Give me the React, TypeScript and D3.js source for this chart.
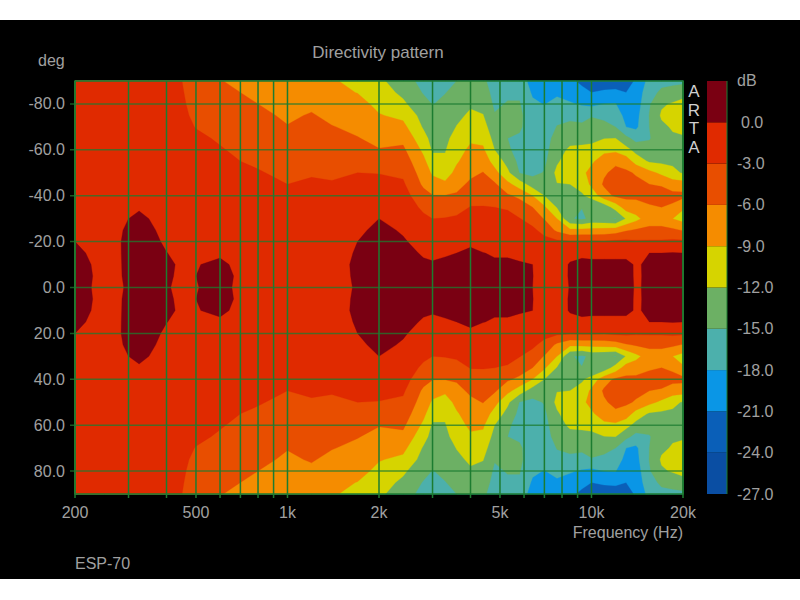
import React from 'react';
import * as d3 from 'd3';

const W = 800;
const H = 600;

// Frequency columns of the measurement grid (Hz)
const freqs = [
  200, 250, 300, 325, 350, 400, 450, 500, 600, 700, 800, 1000, 1200, 1400, 1700, 2000, 2400, 2800, 3000, 3300, 3600,
  4000, 4400, 4800, 5300, 5800, 6400, 7000, 7700, 8500, 9300, 10000, 11000, 12000, 13000, 14000, 15500, 17000,
  18500, 20000,
];

// Off-axis angles of one side (deg), the other side is the mirror of it
const sideAngles = [0, 5, 10, 15, 20, 25, 30, 35, 40, 45, 50, 55, 60, 65, 70, 75, 80, 85, 90];

// dB, one line per frequency, one value per side angle
const dbByFreq = [
  [0.5, 0.6, 0.6, 0.4, 0, -0.3, -0.5, -0.7, -0.9, -1, -1.1, -1.2, -1.3, -1.4, -1.5, -1.6, -1.7, -1.8, -1.9],
  [-0.4, -0.4, -0.5, -0.7, -0.9, -1, -1.1, -1.2, -1.3, -1.4, -1.5, -1.6, -1.7, -1.8, -1.9, -2, -2, -2.1, -2.2],
  [0.1, 0.15, 0.2, 0.3, 0.4, 0.3, 0, -0.5, -0.8, -1, -1.2, -1.3, -1.4, -1.5, -1.6, -1.7, -1.8, -1.9, -2],
  [0.5, 0.6, 0.7, 0.8, 0.8, 0.6, 0.3, -0.15, -0.6, -0.9, -1.1, -1.2, -1.3, -1.4, -1.5, -1.6, -1.7, -1.8, -1.9],
  [0.8, 0.9, 1, 1, 0.8, 0.5, 0, -0.5, -0.8, -1, -1.2, -1.4, -1.5, -1.6, -1.7, -1.9, -2, -2.1, -2.2],
  [0.3, 0.5, 0.5, 0.05, -0.4, -0.8, -1, -1.2, -1.3, -1.4, -1.5, -1.6, -1.7, -1.9, -2, -2.1, -2.2, -2.4, -2.5],
  [-0.8, -0.6, -0.4, -0.6, -0.9, -1, -1.1, -1.2, -1.3, -1.4, -1.5, -1.7, -1.9, -2, -2.2, -2.4, -2.6, -2.8, -3],
  [-0.1, 0, -0.1, -0.6, -0.8, -1, -1.1, -1.2, -1.3, -1.4, -1.6, -1.8, -2.1, -2.5, -3.1, -3.6, -4, -4.3, -4.5],
  [0.7, 0.8, 0.4, -0.3, -0.7, -0.9, -1, -1.2, -1.4, -1.6, -2, -2.4, -2.8, -3.3, -3.8, -4.4, -4.9, -5.4, -5.9],
  [-0.5, -0.4, -0.5, -0.8, -1, -1.1, -1.2, -1.4, -1.7, -2.1, -2.6, -3, -3.5, -4, -4.5, -5, -5.5, -6, -6.5],
  [-0.7, -0.7, -0.7, -0.8, -0.9, -1, -1.1, -1.3, -1.6, -2, -2.8, -3.4, -3.9, -4.4, -4.9, -5.4, -6, -6.6, -7.1],
  [-0.6, -0.6, -0.7, -0.8, -0.9, -1.1, -1.3, -1.8, -2.4, -3, -3.6, -4.2, -4.8, -5.3, -5.9, -6.4, -6.8, -7.2, -7.6],
  [-0.6, -0.6, -0.6, -0.7, -0.8, -1, -1.2, -1.6, -2.2, -2.7, -3.2, -3.8, -4.3, -4.8, -5.2, -5.8, -6.5, -7.2, -8],
  [-0.8, -0.8, -0.9, -0.9, -0.9, -1, -1.2, -1.5, -2.1, -2.8, -3.4, -4, -4.6, -5.2, -5.9, -6.6, -7.3, -8, -8.7],
  [0.2, 0.3, 0.4, 0.2, 0, -0.4, -0.8, -1.2, -1.7, -2.3, -3, -3.6, -4.3, -5.9, -6.5, -7.1, -7.8, -9.1, -9.8],
  [1, 1.3, 1.4, 1.3, 1, 0.5, 0, -0.7, -1.4, -2.1, -3.1, -4, -5.9, -6.6, -7.4, -8.8, -9.9, -10.7, -11.4],
  [1, 1, 0.8, 0.6, 0.2, -0.2, -0.7, -1.2, -1.8, -2.6, -3.5, -4.5, -5.5, -6.7, -8.2, -9.7, -11.5, -12.6, -13.6],
  [0.8, 0.6, 0.3, -0.2, -0.7, -1.4, -2.4, -3.6, -5, -6.5, -7.4, -8.3, -9.6, -11, -12.3, -13.1, -14, -15.2, -16],
  [0.5, 0.4, 0.2, -0.4, -1, -1.9, -3, -4.4, -5.9, -7.8, -9.4, -10.9, -12.4, -13, -13.7, -14.4, -15.1, -16, -16.8],
  [0.6, 0.6, 0.4, -0.2, -0.9, -1.9, -2.9, -4.2, -5.9, -8.5, -10.2, -11.5, -12.2, -12.8, -13.4, -13.9, -14.4, -15.1, -15.8],
  [0.7, 0.7, 0.4, 0, -0.8, -1.8, -2.6, -4, -5.6, -7, -8.3, -9.3, -10, -10.8, -11.9, -12.7, -13.4, -14.2, -15],
  [1, 1, 0.8, 0.4, -0.4, -1.3, -2.2, -2.9, -4.2, -5.4, -6.7, -7.7, -8.5, -9.4, -10.4, -11.5, -12.4, -13.2, -14],
  [0.8, 0.8, 0.5, 0.05, -0.8, -1.6, -2.4, -2.9, -3.9, -4.9, -5.9, -7.2, -8.6, -9.7, -10.8, -11.9, -12.8, -13.6, -14.4],
  [0.5, 0.5, 0.3, -0.2, -0.9, -1.7, -2.4, -3, -4, -5.6, -8, -10.2, -12, -13, -14, -14.8, -15.5, -16, -16.5],
  [0.5, 0.5, 0.3, -0.2, -0.7, -1.4, -2.2, -3.3, -5.6, -8.2, -11.4, -13, -14.6, -15, -14.7, -14.4, -14.8, -15.5, -16],
  [0.4, 0.4, 0.2, -0.5, -1.1, -1.9, -2.9, -4.6, -6.6, -10.5, -15.1, -15.8, -16, -15.4, -14.6, -14.4, -14.8, -15.5, -16],
  [0, 0.05, 0, -0.8, -1.6, -2.5, -4, -6, -9, -13.4, -15.8, -16.2, -16.5, -16.5, -16.5, -16.8, -17.5, -18.4, -19.5],
  [-1, -1, -1.1, -1.4, -2.2, -3.8, -6.2, -8.6, -12, -13.7, -14.8, -15.6, -16, -16.2, -16.6, -17.2, -18.1, -19, -19.5],
  [-1, -1, -1.1, -1.3, -2.4, -6.6, -9, -12.2, -13, -12.1, -11.3, -12.4, -13.2, -14, -14.9, -15.8, -17, -18.6, -19.5],
  [0.1, 0.2, 0.2, -0.7, -2.7, -8.4, -14.7, -13.8, -12.9, -12, -10.7, -10.5, -11.5, -13, -14.2, -15.8, -17.7, -19.2, -20.4],
  [0.6, 0.7, 0.6, -0.5, -2.6, -8.2, -15.6, -14.9, -12.4, -11, -9.6, -9.6, -11.3, -13, -14.4, -16.1, -18.3, -20.2, -21.6],
  [0.8, 0.9, 0.6, -0.7, -2.6, -8.2, -14.2, -14.8, -11, -8.4, -8.2, -9.4, -11.3, -12.6, -14, -15.2, -18.8, -21, -22],
  [0.9, 0.9, 0.6, -0.7, -2.7, -8, -14.5, -13.8, -7.2, -5.6, -6.4, -7.8, -9.6, -12.1, -14, -15.9, -18, -20.6, -22.5],
  [0.8, 0.9, 0.6, -0.7, -2.4, -7.5, -15.2, -10.8, -5.5, -4.8, -5.2, -6.6, -9.6, -12, -15, -16.5, -17.9, -20.4, -22.6],
  [0.7, 0.8, 0.5, -0.6, -2.4, -6.3, -11.8, -7.6, -5.3, -4.7, -5.5, -7.4, -11, -14.2, -18, -18.9, -19.9, -21, -22.4],
  [-0.2, -0.3, -0.2, -0.8, -2.6, -5.7, -9.9, -7.2, -5.4, -5.2, -6.3, -10.2, -13, -16, -18.6, -19, -19.6, -20, -20.6],
  [0.3, 0.4, 0.3, 0, -2.6, -5.3, -7.4, -6.2, -5.4, -6, -8.1, -12.4, -14, -15.2, -15, -14.9, -15.3, -16, -17],
  [0.5, 0.5, 0.5, 0, -2.6, -5.3, -7.4, -6, -5.2, -6.2, -9.7, -12.6, -13.2, -13.4, -12.6, -11.6, -12.4, -14.5, -15.8],
  [0.6, 0.6, 0.6, 0.1, -2.4, -5.5, -9, -6.5, -5.1, -7.5, -11.2, -12.6, -12.8, -12.4, -11.7, -11.2, -11.7, -14, -15.7],
  [0.7, 0.8, 0.7, 0, -2.5, -6.2, -10.2, -8.6, -5.2, -7.6, -12.3, -12.8, -12.7, -12.3, -11.3, -10.6, -11.2, -13, -15.8],
];

// Contour levels with the colour of the band above each level
const levels = [-27, -24, -21, -18, -15, -12, -9, -6, -3, 0];
const bandColors = [
  '#0a4ea3', '#0a5fb8', '#0a96e6', '#4cb0ac', '#6cb064', '#d6d400', '#f58c00', '#e84e00', '#e02a00', '#7a0012',
];

const freqTicks = [200, 300, 400, 500, 600, 700, 800, 900, 1000, 2000, 3000, 4000, 5000, 6000, 7000, 8000, 9000, 10000, 20000];
const freqLabels: [number, string][] = [
  [200, '200'], [500, '500'], [1000, '1k'], [2000, '2k'], [5000, '5k'], [10000, '10k'], [20000, '20k'],
];
const angleTicks = [-80, -60, -40, -20, 0, 20, 40, 60, 80];
const scaleLabels = [0, -3, -6, -9, -12, -15, -18, -21, -24, -27];
const brandLetters = ['A', 'R', 'T', 'A'];

const plot = { left: 75, right: 683, top: 81, bottom: 494 };
const bar = { left: 707, right: 727 };

const x = d3.scaleLog().domain([200, 20000]).range([plot.left, plot.right]);
const y = d3.scaleLinear().domain([-90, 90]).range([plot.top, plot.bottom]);
const dbY = d3.scaleLinear().domain([3, -27]).range([plot.top, plot.bottom]);

const angles = [...sideAngles.slice(1).reverse().map(a => -a), ...sideAngles];

// contours works on grid indices, these bring them back to pixels
const colToX = d3.scaleLinear().domain(freqs.map((_, i) => i)).range(freqs.map(f => x(f))).clamp(true);
const rowToY = d3.scaleLinear().domain(angles.map((_, i) => i)).range(angles.map(a => y(a))).clamp(true);

const grid: number[] = [];
angles.forEach(a => {
  const side = sideAngles.indexOf(Math.abs(a));
  freqs.forEach((_, i) => grid.push(dbByFreq[i][side]));
});

const bands = d3.contours().size([freqs.length, angles.length]).thresholds(levels)(grid);

const toPixels = d3.geoTransform({
  point(px: number, py: number) {
    this.stream.point(colToX(px - 0.5), rowToY(py - 0.5));
  },
});
const bandPath = d3.geoPath(toPixels);

const FONT = '"Liberation Sans", Arial, sans-serif';
const TEXT = '#a0a0a0';
const GRID = '#1c7c30';

export default function App() {
  return (
    <svg
      width={W}
      height={H}
      viewBox={`0 0 ${W} ${H}`}
      style={{ position: 'absolute', left: 0, top: 0, background: '#fff' }}
      fontFamily={FONT}
      fontSize={16}
      fill={TEXT}
    >
      <rect x={0} y={20} width={W} height={559} fill="#000" />

      <text x={378} y={58} textAnchor="middle" fontSize={17}>Directivity pattern</text>
      <text x={38} y={66}>deg</text>

      {bands.map((band, i) => (
        <path key={band.value} d={bandPath(band) ?? ''} fill={bandColors[i]} stroke={bandColors[i]} strokeWidth={0.3} />
      ))}

      {freqTicks.map(f => (
        <line key={f} x1={x(f)} x2={x(f)} y1={plot.top} y2={plot.bottom + 4} stroke={GRID} strokeWidth={1.5} />
      ))}
      {angleTicks.map(a => (
        <line
          key={a}
          x1={plot.left - 5}
          x2={plot.right}
          y1={y(a)}
          y2={y(a)}
          stroke={GRID}
          strokeWidth={1.5}
          strokeOpacity={0.75}
        />
      ))}
      <rect
        x={plot.left}
        y={plot.top}
        width={plot.right - plot.left}
        height={plot.bottom - plot.top}
        fill="none"
        stroke={GRID}
        strokeWidth={1.5}
      />

      {angleTicks.map(a => (
        <text key={a} x={65} y={y(a) + 5.5} textAnchor="end">{a.toFixed(1)}</text>
      ))}
      {freqLabels.map(([f, label]) => (
        <text key={f} x={x(f)} y={518} textAnchor="middle">{label}</text>
      ))}
      <text x={plot.right} y={538} textAnchor="end">Frequency (Hz)</text>
      <text x={plot.left} y={569}>ESP-70</text>

      {brandLetters.map((letter, i) => (
        <text key={i} x={694} y={97 + i * 18.5} textAnchor="middle" fontSize={17} fill="#cfcfcf">{letter}</text>
      ))}

      {levels.map((level, i) => (
        <rect
          key={level}
          x={bar.left}
          y={dbY(i === levels.length - 1 ? 3 : levels[i + 1])}
          width={bar.right - bar.left}
          height={dbY(level) - dbY(i === levels.length - 1 ? 3 : levels[i + 1])}
          fill={bandColors[i]}
        />
      ))}
      <line x1={bar.right} x2={bar.right} y1={plot.top} y2={plot.bottom} stroke={GRID} strokeWidth={1} />
      <text x={737} y={86}>dB</text>
      {scaleLabels.map(v => (
        <text key={v} x={v === 0 ? 741 : 737} y={dbY(v) + 5.5}>{v.toFixed(1)}</text>
      ))}
    </svg>
  );
}
